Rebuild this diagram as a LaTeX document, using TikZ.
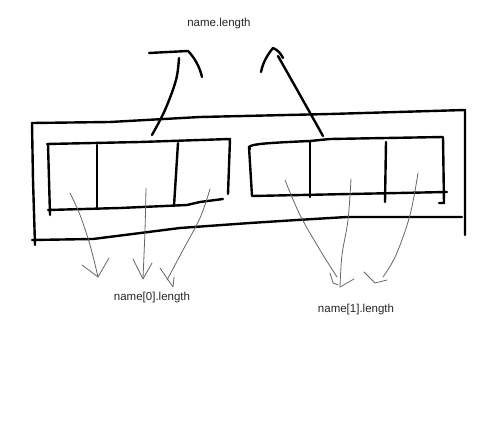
\documentclass[tikz,border=0pt]{standalone}
\usepackage{fontspec}
\setmainfont{Liberation Sans}
\begin{document}
\begin{tikzpicture}[x=1pt,y=-1pt,
  ink/.style={line width=2.4pt,line cap=round,line join=round,black},
  pencil/.style={line width=0.8pt,line cap=round,line join=round,black!60},
  lbl/.style={font=\fontsize{11.5}{13}\selectfont,text=black!85,inner sep=0pt}]
\useasboundingbox[fill=white] (0,0) rectangle (500,435);
% outer frame
\draw[ink] (32,123) -- (110,122) -- (200,117) -- (330,114) -- (465,110) -- (465,235);
\draw[ink] (32,123) -- (33,180) -- (35,245);
\draw[ink] (32,240) -- (93,239) -- (180,228) -- (250,223) -- (297,220) -- (347,217) -- (462,217);
% left inner box
\draw[ink] (47,144) -- (140,142) -- (200,140) -- (230,139) -- (228,194);
\draw[ink] (48,144) -- (50,215);
\draw[ink] (48,210) -- (120,208) -- (187,205) -- (200,202) -- (223,199);
\draw[ink] (97,145) -- (97,209);
\draw[ink] (178,143) -- (174,206);
% right inner box
\draw[ink] (250,149) -- (249,147) .. controls (252,144) and (265,143) .. (310,141) -- (330,139) -- (443,137) -- (444,203) -- (439,203);
\draw[ink] (249,147) -- (252,196) -- (350,194) -- (447,192);
\draw[ink] (310,141) -- (310,197);
\draw[ink] (386,142) -- (385,202);
% upward arrows
\draw[ink] plot[smooth,tension=0.6] coordinates {(152,135) (165,110) (176,80) (179,58)};
\draw[ink] (149,53) -- (188,51) .. controls (195,58) and (200,68) .. (202,77);
\draw[ink] plot[smooth,tension=0.6] coordinates {(323,136) (300,95) (278,56)};
\draw[ink] (261,72) .. controls (263,62) and (268,54) .. (273,48) .. controls (278,50) and (281,54) .. (283,58);
\node[lbl] (top) at (219,24) {name.length};
% lower left pencil arrows
\draw[pencil] plot[smooth,tension=0.6] coordinates {(70,193) (80,215) (90,245) (98,277)};
\draw[pencil] (82,265) -- (98,277) -- (109,258);
\draw[pencil] plot[smooth,tension=0.6] coordinates {(146,188) (145,230) (143,278)};
\draw[pencil] (133,259) -- (143,279) -- (152,263);
\draw[pencil] plot[smooth,tension=0.6] coordinates {(210,189) (200,218) (183,250) (167,280)};
\draw[pencil] (160,268) -- (173,287) -- (174,277);
\node[lbl] (l0) at (152,298) {name[0].length};
% lower right pencil arrows
\draw[pencil] plot[smooth,tension=0.6] coordinates {(285,180) (300,215) (320,250) (337,277)};
\draw[pencil] (330,273) -- (333,283) -- (338,285);
\draw[pencil] plot[smooth,tension=0.6] coordinates {(351,179) (348,220) (342,255) (340,287)};
\draw[pencil] (340,287) -- (354,279);
\draw[pencil] plot[smooth,tension=0.6] coordinates {(418,173) (410,215) (396,255) (383,277)};
\draw[pencil] (364,272) -- (375,283) -- (387,280);
\node[lbl] (l1) at (356,310) {name[1].length};
\end{tikzpicture}
\end{document}
